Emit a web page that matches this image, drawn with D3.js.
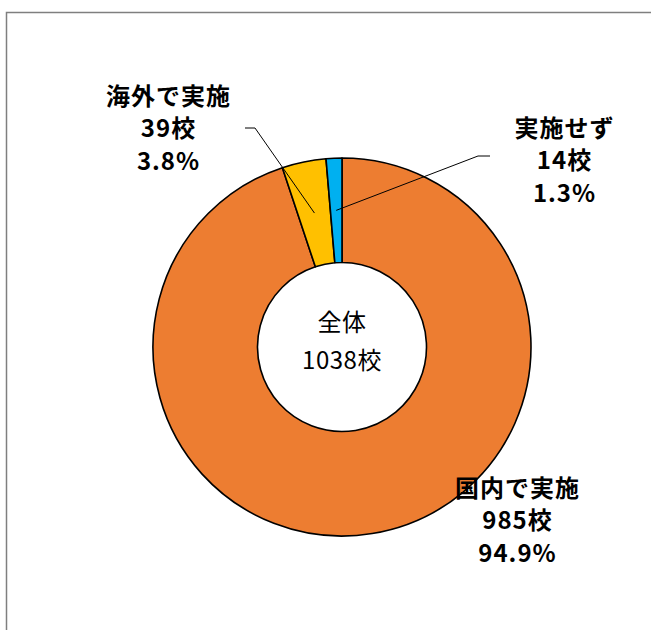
<!DOCTYPE html>
<html>
<head>
<meta charset="utf-8">
<script src="https://cdn.jsdelivr.net/npm/d3@7"></script>
<style>
  body { margin: 0; background: #fff; }
  svg { display: block; }
</style>
</head>
<body>
<svg id="chart" width="651" height="630"></svg>
<script>
// data
const categories = ["国内で実施", "海外で実施", "実施せず"];
const counts = [985, 39, 14];
const percents = ["94.9%", "3.8%", "1.3%"];
const colors = ["#ED7D31", "#FFC000", "#00B0F0"];
const totalLabel = ["全体", "1038校"];

const width = 651, height = 630;
const cx = 342, cy = 347;
const outerR = 189, innerR = 84.5;

// label layout (x center, first line y) and leader knee per slice
const labelPos = [
    { x: 517, y: 486, leader: null },
    { x: 168, y: 94, leader: [[245, 128], [255, 128]] },
    { x: 564, y: 126, leader: [[490, 156], [478, 156]] }
];

const fontFam = "'Noto Sans CJK JP', 'Noto Sans', sans-serif";

const svg = d3.select("#chart");

// outer frame (runs off the right/bottom edges like the source)
svg.append("rect")
    .attr("x", 6.5)
    .attr("y", 12.5)
    .attr("width", 800)
    .attr("height", 800)
    .attr("fill", "none")
    .attr("stroke", "#7f7f7f")
    .attr("stroke-width", 1.5);

const pie = d3.pie().sort(null).value(d => d.count);
const data = categories.map((c, i) => ({ name: c, count: counts[i], pct: percents[i], color: colors[i] }));
const arcs = pie(data);

const arc = d3.arc().innerRadius(innerR).outerRadius(outerR);

const g = svg.append("g").attr("transform", `translate(${cx},${cy})`);

g.selectAll("path.slice")
    .data(arcs)
    .join("path")
    .attr("class", "slice")
    .attr("d", arc)
    .attr("fill", d => d.data.color)
    .attr("stroke", "#000")
    .attr("stroke-width", 1.6)
    .attr("stroke-linejoin", "round");

// leader lines
arcs.forEach((d, i) => {
    const lp = labelPos[i];
    if (!lp.leader) return;
    const c = arc.centroid(d);
    const pts = lp.leader.concat([[cx + c[0], cy + c[1]]]);
    svg.append("path")
        .attr("d", d3.line()(pts))
        .attr("fill", "none")
        .attr("stroke", "#000")
        .attr("stroke-width", 1);
});

// slice labels
arcs.forEach((d, i) => {
    const lp = labelPos[i];
    const t = svg.append("text")
        .attr("text-anchor", "middle")
        .attr("font-family", fontFam)
        .attr("font-weight", "bold")
        .attr("font-size", "24px")
        .attr("letter-spacing", "1px")
        .attr("fill", "#000");
    [d.data.name, d.data.count + "校", d.data.pct].forEach((s, k) => {
        t.append("tspan")
            .attr("x", lp.x + 0.5)
            .attr("y", lp.y + k * 32.5)
            .attr("dominant-baseline", "central")
            .text(s);
    });
});

// center label
const ct = svg.append("text")
    .attr("text-anchor", "middle")
    .attr("font-family", fontFam)
    .attr("font-size", "24px")
    .attr("letter-spacing", "0.5px")
    .attr("fill", "#000");
totalLabel.forEach((s, k) => {
    ct.append("tspan")
        .attr("x", cx)
        .attr("y", 320 + k * 38)
        .attr("dominant-baseline", "central")
        .text(s);
});
</script>
</body>
</html>
